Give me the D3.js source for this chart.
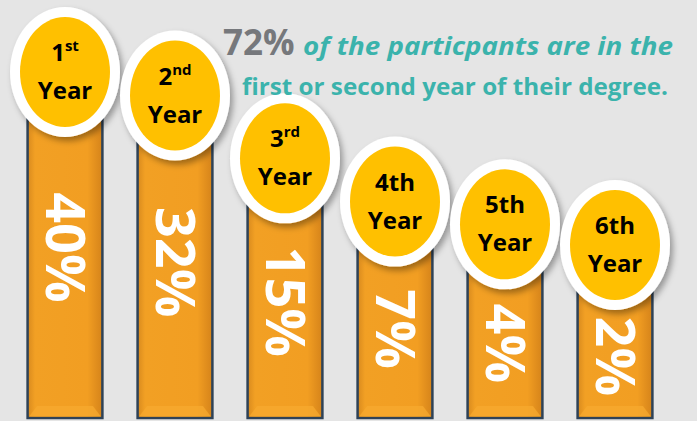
<!DOCTYPE html>
<html>
<head>
<meta charset="utf-8">
<script src="https://cdn.jsdelivr.net/npm/d3@7"></script>
<style>
  html, body { margin: 0; padding: 0; background: #e5e5e5; }
  svg { display: block; font-family: "Open Sans", "DejaVu Sans", sans-serif; }
</style>
</head>
<body>
<div id="chart"></div>
<script>
// data
var years = ["1", "2", "3", "4", "5", "6"];
var suffix = ["st", "nd", "rd", "th", "th", "th"];
var raised = [true, true, true, false, false, false];
var shares = [40, 32, 15, 7, 4, 2];

var headBig = "72%";
var headLine1 = "of the particpants are in the";
var headLine2 = "first or second year of their degree.";

var w = 697, h = 421;
var bottom = 418;

var svg = d3.select("#chart").append("svg")
  .attr("width", w).attr("height", h);

var defs = svg.append("defs");

var grad = defs.append("linearGradient").attr("id", "barGrad")
  .attr("x1", "0").attr("x2", "1").attr("y1", "0").attr("y2", "0");
grad.append("stop").attr("offset", "0%").attr("stop-color", "#d88a1e");
grad.append("stop").attr("offset", "10%").attr("stop-color", "#f2a024");
grad.append("stop").attr("offset", "80%").attr("stop-color", "#f29e22");
grad.append("stop").attr("offset", "100%").attr("stop-color", "#d5831a");

var shadow = defs.append("filter").attr("id", "shadow")
  .attr("x", "-30%").attr("y", "-30%").attr("width", "170%").attr("height", "170%");
shadow.append("feDropShadow")
  .attr("dx", 3).attr("dy", 4).attr("stdDeviation", 3)
  .attr("flood-color", "#000").attr("flood-opacity", 0.35);

// scales
var x = d3.scaleBand()
  .domain(years)
  .range([10, 670])
  .paddingInner(0.32)
  .paddingOuter(0.16);

// bubble tops (bar ends) follow a sqrt scale of the share
var y = d3.scaleSqrt()
  .domain([2, 40])
  .range([245, 72]);

var bw = x.bandwidth();

var g = svg.append("g");

// bars
var bars = g.selectAll("g.bar")
  .data(years)
  .enter()
  .append("g")
  .attr("class", "bar");

bars.append("rect")
  .attr("x", function(d){ return x(d); })
  .attr("y", function(d, i){ return y(shares[i]); })
  .attr("width", bw)
  .attr("height", function(d, i){ return bottom - y(shares[i]); })
  .attr("fill", "url(#barGrad)")
  .attr("stroke", "#2f4257")
  .attr("stroke-width", 2.5);

// little bevel at bar foot
bars.append("path")
  .attr("d", function(d){
    var x0 = x(d) + 1.5, x1 = x(d) + bw - 1.5;
    return "M" + x0 + "," + (bottom - 1.5) + " L" + (x0 + 8) + "," + (bottom - 12) +
      " L" + (x1 - 8) + "," + (bottom - 12) + " L" + x1 + "," + (bottom - 1.5) + "Z";
  })
  .attr("fill", "#f6a92e")
  .attr("opacity", 0.8);

// percentage text, rotated
bars.append("text")
  .attr("transform", function(d, i){
    var cy = y(shares[i]) * 0.63 + 202;
    return "translate(" + (x(d) + bw / 2) + " " + cy + ") rotate(90)";
  })
  .attr("text-anchor", "middle")
  .attr("dy", "0.36em")
  .attr("fill", "white")
  .style("font-size", "54px")
  .style("font-weight", "bold")
  .text(function(d, i){ return shares[i] + "%"; });

// bubbles
var bub = g.selectAll("g.bub")
  .data(years)
  .enter()
  .append("g")
  .attr("class", "bub")
  .attr("transform", function(d, i){
    return "translate(" + (x(d) + bw / 2) + "," + y(shares[i]) + ")";
  });

bub.append("ellipse")
  .attr("rx", 55).attr("ry", 65)
  .attr("fill", "white")
  .attr("filter", "url(#shadow)");

bub.append("ellipse")
  .attr("rx", 45).attr("ry", 55)
  .attr("fill", "#ffc000");

var lab = bub.append("text")
  .attr("text-anchor", "middle")
  .attr("y", -11)
  .attr("fill", "black")
  .style("font-size", "24px")
  .style("font-weight", "bold");

lab.append("tspan").text(function(d){ return d; });
lab.append("tspan")
  .attr("dy", function(d, i){ return raised[i] ? -10 : 0; })
  .style("font-size", function(d, i){ return raised[i] ? "15px" : "24px"; })
  .text(function(d, i){ return suffix[i]; });

bub.append("text")
  .attr("text-anchor", "middle")
  .attr("y", 27)
  .attr("fill", "black")
  .style("font-size", "24px")
  .style("font-weight", "bold")
  .text("Year");

// heading
svg.append("text")
  .attr("x", 223).attr("y", 55)
  .attr("fill", "#76787c")
  .style("font-size", "35px")
  .style("font-weight", "bold")
  .text(headBig);

svg.append("text")
  .attr("x", 303).attr("y", 55)
  .attr("fill", "#3bb3ac")
  .attr("textLength", 370)
  .attr("lengthAdjust", "spacingAndGlyphs")
  .style("font-size", "25px")
  .style("font-weight", "bold")
  .style("font-style", "italic")
  .text(headLine1);

svg.append("text")
  .attr("x", 242).attr("y", 95)
  .attr("fill", "#3bb3ac")
  .attr("textLength", 426)
  .attr("lengthAdjust", "spacingAndGlyphs")
  .style("font-size", "24px")
  .style("font-weight", "bold")
  .text(headLine2);
</script>
</body>
</html>
